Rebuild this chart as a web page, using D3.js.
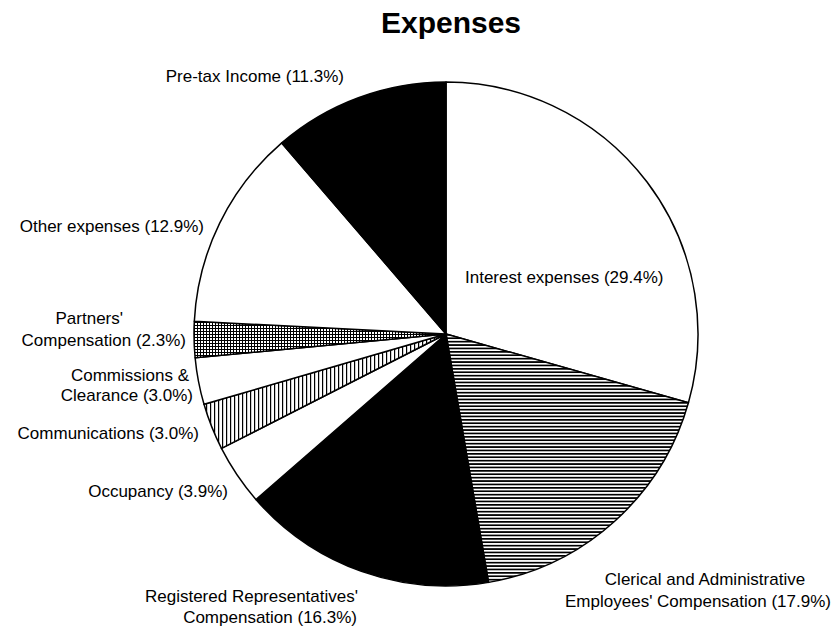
<!DOCTYPE html>
<html>
<head>
<meta charset="utf-8">
<script src="https://cdn.jsdelivr.net/npm/d3@7"></script>
<style>
  body { margin: 0; background: white; }
  text { font-family: "Liberation Sans", Arial, Helvetica, sans-serif; fill: black; }
</style>
</head>
<body>
<script>
// data, clockwise from 12 o'clock
const categories = [
  "Interest expenses",
  "Clerical and Administrative Employees' Compensation",
  "Registered Representatives' Compensation",
  "Occupancy",
  "Communications",
  "Commissions & Clearance",
  "Partners' Compensation",
  "Other expenses",
  "Pre-tax Income"
];
const shares = [29.4, 17.9, 16.3, 3.9, 3.0, 3.0, 2.3, 12.9, 11.3];
const fills = ["white", "url(#hlines)", "black", "white", "url(#vlines)", "white", "url(#grid)", "white", "black"];

// label lines for each slice (layout only)
const labelLines = [
  ["Interest expenses (29.4%)"],
  ["Clerical and Administrative", "Employees' Compensation (17.9%)"],
  ["Registered Representatives'", "Compensation (16.3%)"],
  ["Occupancy (3.9%)"],
  ["Communications (3.0%)"],
  ["Commissions &", "Clearance (3.0%)"],
  ["Partners'", "Compensation (2.3%)"],
  ["Other expenses (12.9%)"],
  ["Pre-tax Income (11.3%)"]
];
// [x, baseline y, anchor] for each line
const labelPos = [
  [[465, 283, "start"]],
  [[705, 585, "middle"], [698, 607, "middle"]],
  [[358, 602, "end"], [357, 623, "end"]],
  [[228, 497, "end"]],
  [[199, 439, "end"]],
  [[189, 381, "end"], [193, 401, "end"]],
  [[123, 324, "end"], [186, 346, "end"]],
  [[204, 232, "end"]],
  [[344, 82, "end"]]
];

const width = 839, height = 630;
const cx = 446, cy = 334, radius = 252;

const svg = d3.select("body").append("svg")
  .attr("width", width)
  .attr("height", height);

const defs = svg.append("defs");

const hl = defs.append("pattern")
  .attr("id", "hlines")
  .attr("patternUnits", "userSpaceOnUse")
  .attr("width", 6).attr("height", 3.4);
hl.append("rect").attr("width", 6).attr("height", 3.4).attr("fill", "white");
hl.append("rect").attr("width", 6).attr("height", 1.7).attr("fill", "black");

const vl = defs.append("pattern")
  .attr("id", "vlines")
  .attr("patternUnits", "userSpaceOnUse")
  .attr("width", 4).attr("height", 6);
vl.append("rect").attr("width", 4).attr("height", 6).attr("fill", "white");
vl.append("rect").attr("width", 1.2).attr("height", 6).attr("fill", "black");

const gr = defs.append("pattern")
  .attr("id", "grid")
  .attr("patternUnits", "userSpaceOnUse")
  .attr("width", 3).attr("height", 3);
gr.append("rect").attr("width", 3).attr("height", 3).attr("fill", "white");
gr.append("rect").attr("width", 1).attr("height", 3).attr("fill", "black");
gr.append("rect").attr("width", 3).attr("height", 1).attr("fill", "black");

svg.append("text")
  .attr("x", 451)
  .attr("y", 33)
  .attr("text-anchor", "middle")
  .style("font-size", "30px")
  .style("font-weight", "bold")
  .text("Expenses");

const pie = d3.pie().sort(null).value(d => d);
const arc = d3.arc().innerRadius(0).outerRadius(radius);

const g = svg.append("g")
  .attr("transform", `translate(${cx},${cy})`);

g.selectAll(".slice")
  .data(pie(shares))
  .enter().append("path")
  .attr("class", "slice")
  .attr("d", arc)
  .attr("fill", (d, i) => fills[i])
  .attr("stroke", "black")
  .attr("stroke-width", 1.5)
  .attr("stroke-linejoin", "round");

const labels = svg.append("g");
labelLines.forEach((lines, i) => {
  lines.forEach((line, j) => {
    const p = labelPos[i][j];
    labels.append("text")
      .attr("x", p[0])
      .attr("y", p[1])
      .attr("text-anchor", p[2])
      .style("font-size", "17px")
      .text(line);
  });
});
</script>
</body>
</html>
